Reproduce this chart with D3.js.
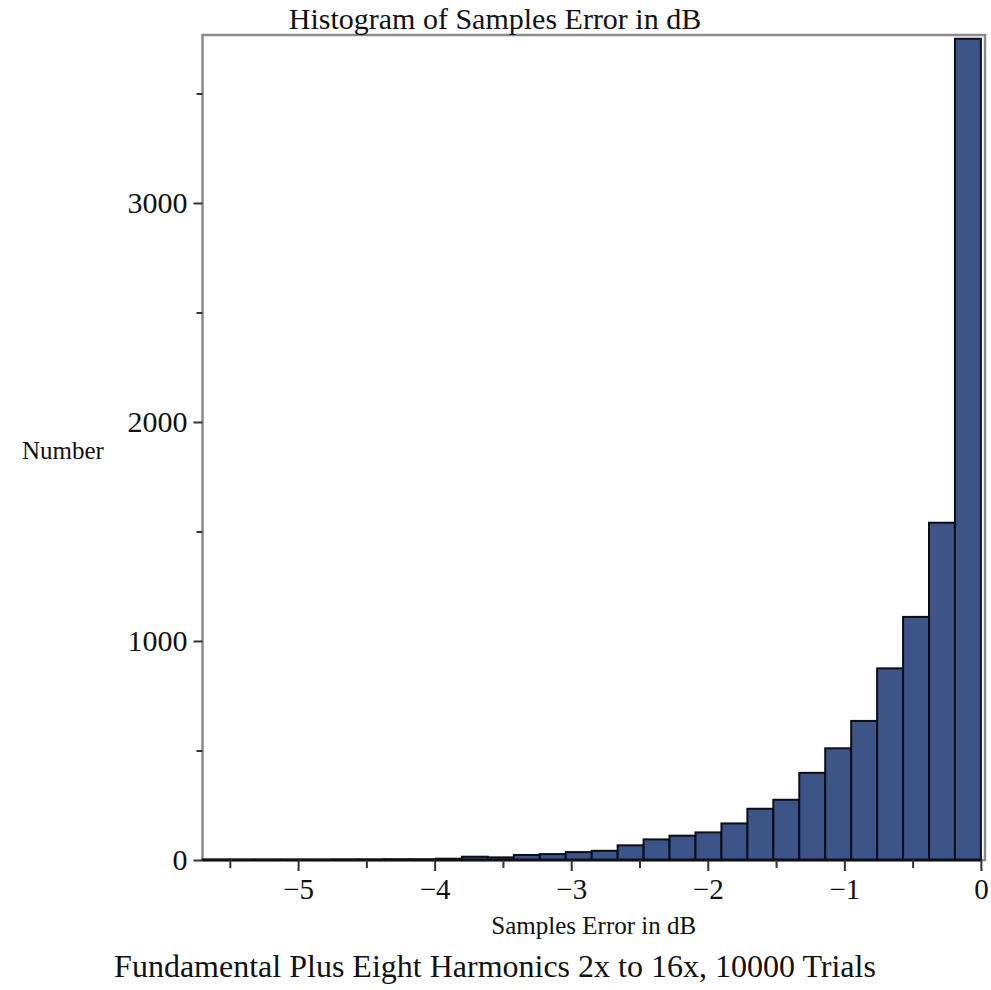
<!DOCTYPE html>
<html>
<head>
<meta charset="utf-8">
<script src="https://cdn.jsdelivr.net/npm/d3@7"></script>
<style>
  html, body { margin: 0; padding: 0; background: #fff; }
  svg { display: block; }
  text { font-family: "Liberation Serif", "DejaVu Serif", serif; fill: #111; }
</style>
</head>
<body>
<svg id="chart" width="991" height="990"></svg>
<script>
// ---- data ----
const binEdges = [-5.70, -5.51, -5.32, -5.13, -4.94, -4.75, -4.56, -4.37, -4.18, -3.99,
                  -3.80, -3.61, -3.42, -3.23, -3.04, -2.85, -2.66, -2.47, -2.28, -2.09,
                  -1.90, -1.71, -1.52, -1.33, -1.14, -0.95, -0.76, -0.57, -0.38, -0.19, 0];
const counts = [1, 1, 1, 1, 1, 2, 2, 3, 3, 6,
                15, 12, 23, 27, 36, 42, 67, 94, 111, 126,
                167, 234, 275, 398, 510, 635, 875, 1110, 1540, 3750];
const xMajorTicks = [-5, -4, -3, -2, -1, 0];
const xMinorTicks = [-5.5, -4.5, -3.5, -2.5, -1.5, -0.5];
const yMajorTicks = [0, 1000, 2000, 3000];
const yMinorTicks = [500, 1500, 2500, 3500];
const titleText = "Histogram of Samples Error in dB";
const xLabelText = "Samples Error in dB";
const yLabelText = "Number";
const captionText = "Fundamental Plus Eight Harmonics 2x to 16x, 10000 Trials";

const bins = counts.map((c, i) => ({ x0: binEdges[i], x1: binEdges[i + 1], n: c }));

// ---- layout ----
const pL = 202.5, pR = 985, pT = 35, pB = 860;
const svg = d3.select("#chart");

const x = d3.scaleLinear().domain([-5.7, 0.03]).range([pL, pR]);
const y = d3.scaleLinear().domain([0, 3767]).range([pB, pT]);

// frame
svg.append("rect")
  .attr("x", pL).attr("y", pT)
  .attr("width", pR - pL).attr("height", pB - pT)
  .attr("fill", "none").attr("stroke", "#8a8a8a").attr("stroke-width", 2.5);

// bars
svg.append("g").selectAll("rect").data(bins).join("rect")
  .attr("x", d => x(d.x0))
  .attr("y", d => y(d.n))
  .attr("width", d => x(d.x1) - x(d.x0))
  .attr("height", d => y(0) - y(d.n))
  .attr("fill", "#3d5488")
  .attr("stroke", "#0a0d1a")
  .attr("stroke-width", 2);

// x axis baseline
svg.append("line")
  .attr("x1", pL).attr("x2", x(0))
  .attr("y1", pB).attr("y2", pB)
  .attr("stroke", "#111").attr("stroke-width", 3);

// x axis ticks
const gx = svg.append("g").attr("transform", `translate(0,${pB})`)
  .call(d3.axisBottom(x).tickValues(xMajorTicks).tickSize(11).tickPadding(7).tickFormat(d3.format("d")));
gx.select(".domain").remove();
gx.selectAll(".tick line").attr("stroke", "#333").attr("stroke-width", 2);
gx.selectAll(".tick text").attr("font-size", 29).attr("font-family", "Liberation Serif").attr("fill", "#111");

const gxm = svg.append("g").attr("transform", `translate(0,${pB})`)
  .call(d3.axisBottom(x).tickValues(xMinorTicks).tickSize(8).tickFormat(""));
gxm.select(".domain").remove();
gxm.selectAll(".tick line").attr("stroke", "#333").attr("stroke-width", 2);

// y axis ticks
const gy = svg.append("g").attr("transform", `translate(${pL},0)`)
  .call(d3.axisLeft(y).tickValues(yMajorTicks).tickSize(9).tickPadding(6).tickFormat(d3.format("d")));
gy.select(".domain").remove();
gy.selectAll(".tick line").attr("stroke", "#333").attr("stroke-width", 2);
gy.selectAll(".tick text").attr("font-size", 30).attr("font-family", "Liberation Serif").attr("fill", "#111");

const gym = svg.append("g").attr("transform", `translate(${pL},0)`)
  .call(d3.axisLeft(y).tickValues(yMinorTicks).tickSize(6).tickFormat(""));
gym.select(".domain").remove();
gym.selectAll(".tick line").attr("stroke", "#333").attr("stroke-width", 2);

// texts
svg.append("text").attr("x", 495).attr("y", 29).attr("text-anchor", "middle")
  .attr("font-size", 30).text(titleText);
svg.append("text").attr("x", (pL + pR) / 2).attr("y", 934).attr("text-anchor", "middle")
  .attr("font-size", 25).text(xLabelText);
svg.append("text").attr("x", 22).attr("y", 459)
  .attr("font-size", 25).text(yLabelText);
svg.append("text").attr("x", 495).attr("y", 977).attr("text-anchor", "middle")
  .attr("font-size", 32).text(captionText);
</script>
</body>
</html>
